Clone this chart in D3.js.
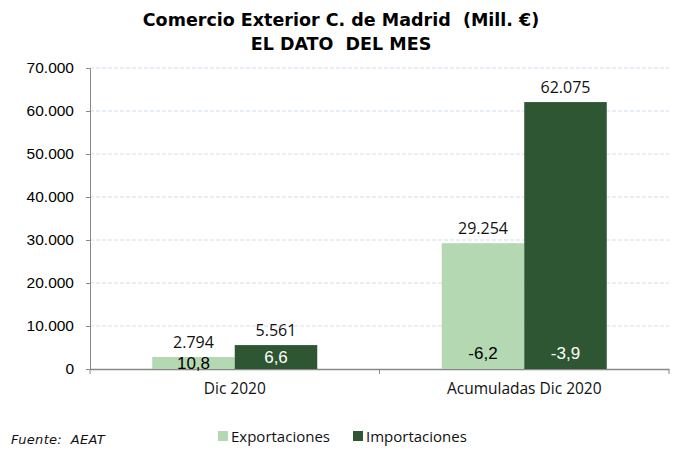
<!DOCTYPE html>
<html>
<head>
<meta charset="utf-8">
<script src="https://cdn.jsdelivr.net/npm/d3@7"></script>
<style>
  body { margin: 0; background: #fff; }
  svg text { font-family: "Open Sans", "Noto Sans", sans-serif; white-space: pre; }
</style>
</head>
<body>
<div id="chart"></div>
<script>
// data
var categories = ["Dic 2020", "Acumuladas Dic 2020"];
var series = ["Exportaciones", "Importaciones"];
var exportValues = [2794, 29254];
var importValues = [5561, 62075];
var exportPct = ["10,8", "-6,2"];
var importPct = ["6,6", "-3,9"];
var yTicks = [0, 10000, 20000, 30000, 40000, 50000, 60000, 70000];
var colors = ["#b3d8b2", "#2e5633"];

var svg_w = 684, svg_h = 460;
var plotLeft = 90, plotRight = 669, plotTop = 68, plotBottom = 369;

var svg = d3.select("#chart")
      .append("svg")
      .attr("width", svg_w)
      .attr("height", svg_h);

var xScale = d3.scaleBand()
      .domain(categories)
      .range([plotLeft, plotRight]);

var xInner = d3.scaleBand()
      .domain(series)
      .range([0, 165]);

var yScale = d3.scaleLinear()
      .domain([0, 70000])
      .range([plotBottom, plotTop]);

var fmt = function(v) { return d3.format(",")(v).replace(/,/g, "."); };

// title
svg.append("text")
  .attr("x", 341).attr("y", 26)
  .attr("text-anchor", "middle")
  .style("font-family", "'DejaVu Sans', sans-serif")
  .style("font-weight", "bold")
  .style("font-size", "17.5px")
  .text("Comercio Exterior C. de Madrid  (Mill. €)");
svg.append("text")
  .attr("x", 341).attr("y", 50)
  .attr("text-anchor", "middle")
  .style("font-family", "'DejaVu Sans', sans-serif")
  .style("font-weight", "bold")
  .style("font-size", "17.5px")
  .text("EL DATO  DEL MES");

// gridlines
svg.append("g").selectAll("line")
  .data(yTicks.slice(1))
  .enter()
  .append("line")
  .attr("x1", plotLeft).attr("x2", plotRight)
  .attr("y1", function(d) { return yScale(d); })
  .attr("y2", function(d) { return yScale(d); })
  .style("stroke", "#d2def1")
  .style("stroke-dasharray", "4, 2");

// y axis
var yAxis = d3.axisLeft(yScale)
      .tickValues(yTicks)
      .tickFormat(fmt)
      .tickSizeOuter(0)
      .tickSize(4);

var gy = svg.append("g")
  .attr("transform", "translate(" + plotLeft + ",0)")
  .call(yAxis);
gy.select(".domain").style("stroke", "#888");
gy.selectAll(".tick line").style("stroke", "#888");
gy.selectAll(".tick text")
  .attr("x", -16)
  .style("font-size", "15.5px")
  .style("font-family", "'Liberation Sans', Arial, sans-serif")
  .style("fill", "#000");

// x axis
var xAxis = d3.axisBottom(xScale)
      .tickSize(0)
      .tickSizeOuter(0);
var gx = svg.append("g")
  .attr("transform", "translate(0," + plotBottom + ")")
  .call(xAxis);
gx.select(".domain").style("stroke", "#888").style("stroke-width", 1.5);
gx.selectAll(".tick text")
  .attr("dy", "1.4em")
  .style("font-size", "15.5px")
  .style("fill", "#111");

// category separators
svg.append("g").selectAll("line")
  .data([plotLeft, xScale(categories[1]), plotRight])
  .enter()
  .append("line")
  .attr("x1", function(d) { return d; })
  .attr("x2", function(d) { return d; })
  .attr("y1", plotBottom)
  .attr("y2", plotBottom + 5)
  .style("stroke", "#888");

var rows = categories.map(function(c, i) {
  return { cat: c, vals: [exportValues[i], importValues[i]], pct: [exportPct[i], importPct[i]] };
});

var groups = svg.selectAll(".grp")
  .data(rows)
  .enter()
  .append("g")
  .attr("transform", function(d) {
    return "translate(" + (xScale(d.cat) + (xScale.bandwidth() - 165) / 2) + ",0)";
  });

groups.selectAll("rect")
  .data(function(d) { return d.vals.map(function(v, j) { return { s: series[j], v: v, j: j }; }); })
  .enter()
  .append("rect")
  .attr("x", function(d) { return xInner(d.s); })
  .attr("width", xInner.bandwidth())
  .attr("y", function(d) { return yScale(d.v); })
  .attr("height", function(d) { return plotBottom - yScale(d.v); })
  .style("fill", function(d) { return colors[d.j]; });

// value labels
groups.selectAll(".val")
  .data(function(d) { return d.vals.map(function(v, j) { return { s: series[j], v: v, j: j }; }); })
  .enter()
  .append("text")
  .attr("class", "val")
  .attr("x", function(d) { return xInner(d.s) + xInner.bandwidth() / 2; })
  .attr("y", function(d) { return yScale(d.v) - 9; })
  .attr("text-anchor", "middle")
  .style("font-size", "16px")
  .style("fill", "#111")
  .text(function(d) { return fmt(d.v); });

// pct labels inside bars (at the base, centred on short bars)
groups.selectAll(".pct")
  .data(function(d) { return d.pct.map(function(p, j) { return { s: series[j], p: p, j: j, v: d.vals[j] }; }); })
  .enter()
  .append("text")
  .attr("class", "pct")
  .attr("x", function(d) { return xInner(d.s) + xInner.bandwidth() / 2; })
  .attr("y", function(d) {
    return Math.max(plotBottom - 16, (yScale(d.v) + plotBottom) / 2) + 6;
  })
  .attr("text-anchor", "middle")
  .style("font-family", "'Liberation Sans', Arial, sans-serif")
  .style("font-size", "17px")
  .style("fill", function(d) { return d.j == 0 ? "#000" : "#fff"; })
  .text(function(d) { return d.p; });

// legend
var legend = svg.selectAll(".leg")
  .data(series)
  .enter()
  .append("g")
  .attr("transform", function(d, i) { return "translate(" + (218 + i * 135) + ",431)"; });
legend.append("rect")
  .attr("width", 10).attr("height", 10)
  .style("fill", function(d, i) { return colors[i]; });
legend.append("text")
  .attr("x", 13).attr("y", 11)
  .style("font-size", "15px")
  .style("fill", "#111")
  .text(function(d) { return d; });

// source
svg.append("text")
  .attr("x", 11).attr("y", 444)
  .style("font-family", "'DejaVu Sans', sans-serif")
  .style("font-style", "italic")
  .style("font-size", "13px")
  .style("letter-spacing", "0.3px")
  .style("fill", "#111")
  .text("Fuente:  AEAT");
</script>
</body>
</html>
